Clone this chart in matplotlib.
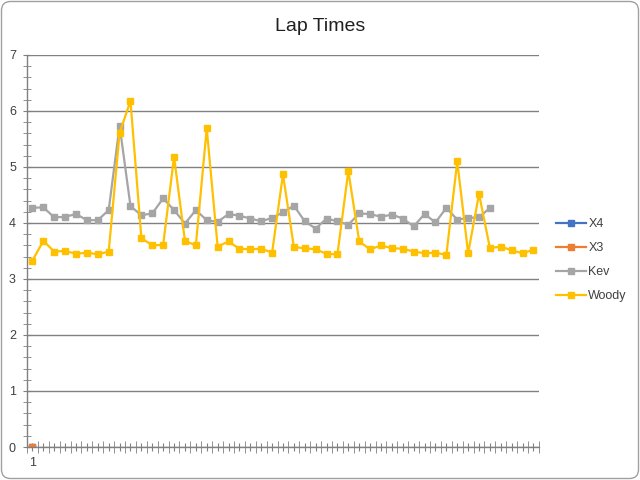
# -*- coding: utf-8 -*-
"""
Lap Times line chart (Excel style)
"""

import numpy as np
import matplotlib
matplotlib.use("Agg")
import matplotlib.pyplot as plt
import matplotlib.ticker as mticker
from matplotlib.patches import FancyBboxPatch
from matplotlib.transforms import IdentityTransform

# ===== 1. Data =====
x4_times = [0.0]
x3_times = [0.0]
kev_times = [
    4.27, 4.28, 4.10, 4.11, 4.16, 4.05, 4.05, 4.23, 5.74, 4.30,
    4.14, 4.17, 4.44, 4.23, 3.99, 4.23, 4.05, 4.02, 4.16, 4.13,
    4.08, 4.03, 4.09, 4.19, 4.31, 4.03, 3.90, 4.08, 4.03, 3.97,
    4.17, 4.16, 4.11, 4.15, 4.08, 3.94, 4.16, 4.01, 4.27, 4.06,
    4.09, 4.10, 4.27,
]
woody_times = [
    3.33, 3.68, 3.49, 3.50, 3.45, 3.47, 3.44, 3.49, 5.61, 6.18,
    3.73, 3.60, 3.61, 5.18, 3.68, 3.60, 5.69, 3.58, 3.67, 3.54,
    3.53, 3.54, 3.47, 4.87, 3.57, 3.55, 3.53, 3.45, 3.44, 4.93,
    3.67, 3.53, 3.60, 3.55, 3.54, 3.49, 3.46, 3.47, 3.43, 5.10,
    3.46, 4.52, 3.55, 3.58, 3.51, 3.46, 3.52,
]
n_laps = 47

series = [
    ("X4", x4_times, "#4472C4"),
    ("X3", x3_times, "#ED7D31"),
    ("Kev", kev_times, "#A5A5A5"),
    ("Woody", woody_times, "#FFC000"),
]

plt.rcParams["font.family"] = ["Liberation Sans", "DejaVu Sans"]

# ===== 2. Figure =====
fig = plt.figure(figsize=(6.4, 4.8), dpi=100)
ax = fig.add_axes([0.0422, 0.06875, 0.7999, 0.8167])

for name, vals, color in series:
    laps = np.arange(1, len(vals) + 1)
    ax.plot(laps, vals, color=color, linewidth=1.6, marker="s",
            markersize=4.4, label=name)

ax.set_xlim(0.5, n_laps + 0.5)
ax.set_ylim(0, 7)

# y axis: labels at integers, small crossing ticks every 0.2
ax.yaxis.set_major_locator(mticker.MultipleLocator(1))
ax.yaxis.set_minor_locator(mticker.MultipleLocator(0.2))
ax.grid(axis="y", which="major", color="#808080", linewidth=1.0)
ax.set_axisbelow(True)

# x axis: only the first lap is labelled
ax.set_xticks(np.arange(1, n_laps + 1))
ax.set_xticklabels(["1"] + [""] * (n_laps - 1))
ax.set_xticks(np.arange(0.5, n_laps + 1), minor=True)

ax.tick_params(axis="both", which="both", direction="inout", color="#808080",
               labelsize=9, labelcolor="#404040")
ax.tick_params(axis="y", which="major", length=6, pad=5)
ax.tick_params(axis="y", which="minor", length=6)
ax.tick_params(axis="x", which="major", length=6, pad=4)
ax.tick_params(axis="x", which="minor", length=8)

for side in ["top", "right"]:
    ax.spines[side].set_visible(False)
for side in ["left", "bottom"]:
    ax.spines[side].set_color("#808080")
    ax.spines[side].set_linewidth(1.0)

fig.text(0.5, 0.944, "Lap Times", ha="center", va="center", fontsize=14,
         color="#202020")

leg = fig.legend(loc="center left", bbox_to_anchor=(0.851, 0.458),
                 frameon=False, fontsize=9, handlelength=2.4,
                 handletextpad=0.2, labelspacing=0.95)
for t in leg.get_texts():
    t.set_color("#404040")

# rounded chart border
border = FancyBboxPatch((1.5, 1.5), 637, 477,
                        boxstyle="round,pad=0,rounding_size=9",
                        transform=IdentityTransform(), fill=False,
                        edgecolor="#A0A0A0", linewidth=1.0)
fig.add_artist(border)

fig.savefig("out.png", dpi=100)
